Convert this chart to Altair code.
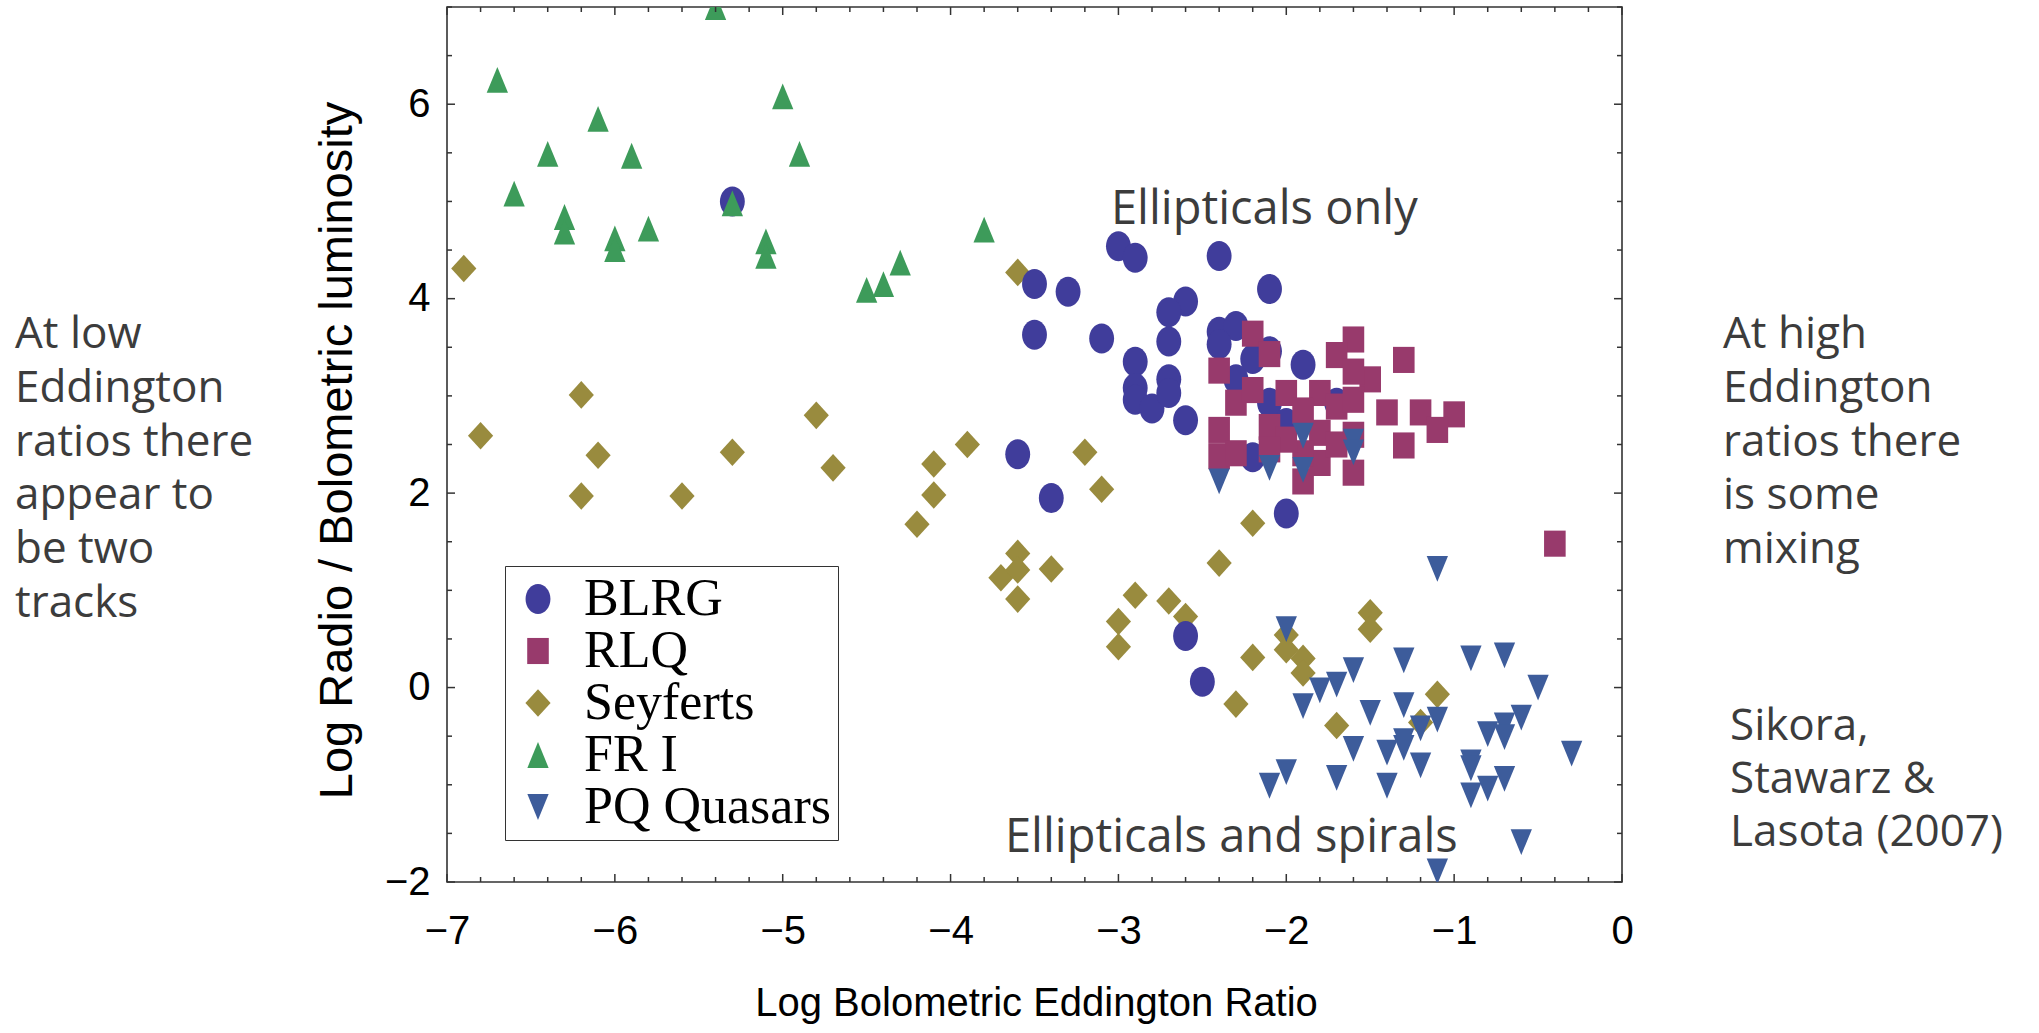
import altair as alt
import pandas as pd

# ---- data: log bolometric Eddington ratio (x) vs log radio / bolometric luminosity (y)
blrg_x = [-5.3, -3.0, -2.9, -2.4, -3.5, -3.3, -2.1, -2.6, -2.7, -3.5, -3.1, -2.7,
          -2.9, -2.9, -2.9, -2.8, -2.7, -2.7, -2.6, -3.6, -3.4, -2.0, -2.4, -2.3,
          -2.4, -2.2, -2.1, -2.3, -1.9, -2.1, -2.0, -2.2, -1.7, -2.6, -2.5]
blrg_y = [5.00, 4.54, 4.42, 4.44, 4.15, 4.07, 4.10, 3.97, 3.86, 3.63, 3.59, 3.56,
          3.35, 3.08, 2.96, 2.87, 3.17, 3.03, 2.75, 2.40, 1.95, 1.79, 3.66, 3.72,
          3.53, 3.38, 3.46, 3.17, 3.32, 2.93, 2.72, 2.37, 2.93, 0.53, 0.06]

rlq_x = [-2.2, -2.1, -2.4, -1.6, -1.7, -1.3, -1.5, -1.4, -1.2, -1.0, -1.3, -1.1,
         -1.6, -1.9, -1.8, -2.4, -2.4, -2.3, -2.3, -2.1, -2.0, -1.8, -1.7, -1.6,
         -1.6, -1.8, -1.9, -2.2, -2.0, -1.9, -2.1, -1.6, -1.7, -0.4]
rlq_y = [3.64, 3.43, 3.26, 3.58, 3.42, 3.37, 3.17, 2.83, 2.83, 2.81, 2.49, 2.65,
         2.21, 2.12, 2.31, 2.38, 2.65, 2.93, 2.41, 2.68, 3.03, 3.03, 2.89, 2.96,
         2.60, 2.62, 2.41, 3.06, 2.55, 2.85, 2.45, 3.25, 2.50, 1.48]

seyfert_x = [-6.9, -6.8, -6.2, -6.1, -6.2, -5.6, -5.3, -4.8, -4.7, -4.1, -4.1, -4.2,
             -3.6, -3.9, -3.2, -3.1, -3.6, -3.7, -3.6, -3.4, -3.6, -2.9, -3.0, -3.0,
             -2.7, -2.6, -2.4, -2.2, -2.2, -2.3, -2.0, -2.0, -1.9, -1.9, -1.7, -1.5,
             -1.5, -1.1, -1.2]
seyfert_y = [4.31, 2.59, 3.01, 2.39, 1.97, 1.97, 2.42, 2.80, 2.26, 2.30, 1.98, 1.68,
             4.27, 2.50, 2.42, 2.04, 1.38, 1.13, 1.21, 1.22, 0.91, 0.95, 0.68, 0.42,
             0.89, 0.73, 1.28, 1.69, 0.31, -0.17, 0.54, 0.39, 0.30, 0.15, -0.39, 0.77,
             0.60, -0.07, -0.36]

fr1_x = [-6.7, -6.1, -6.4, -5.9, -5.0, -4.9, -6.6, -6.3, -6.3, -6.0, -6.0, -5.8,
         -5.3, -5.1, -5.1, -4.5, -4.4, -4.3, -3.8, -5.4]
fr1_y = [6.25, 5.85, 5.49, 5.47, 6.08, 5.49, 5.08, 4.84, 4.69, 4.62, 4.51, 4.72,
         4.98, 4.59, 4.44, 4.09, 4.15, 4.37, 4.71, 7.00]

pq_x = [-1.1, -2.0, -1.3, -0.9, -0.7, -1.6, -1.7, -1.8, -1.9, -0.5, -1.5, -1.3,
        -1.1, -0.6, -0.7, -0.8, -0.7, -1.2, -1.3, -1.3, -1.6, -1.4, -1.2, -0.9,
        -0.9, -0.9, -0.8, -0.7, -0.3, -2.0, -2.1, -1.7, -1.4, -0.6, -1.1, -2.4,
        -2.1, -1.9, -1.9, -1.6, -1.6]
pq_y = [1.22, 0.60, 0.28, 0.30, 0.33, 0.18, 0.03, -0.03, -0.19, 0.00, -0.26, -0.18,
        -0.33, -0.31, -0.39, -0.48, -0.51, -0.42, -0.55, -0.62, -0.63, -0.67, -0.80, -0.77,
        -0.83, -1.11, -1.04, -0.94, -0.68, -0.87, -1.01, -0.93, -1.01, -1.59, -1.89, 2.12,
        2.26, 2.59, 2.24, 2.53, 2.42]

classes = ["BLRG", "RLQ", "Seyferts", "FR I", "PQ Quasars"]
colors = ["#403d9b", "#983a6c", "#998b3e", "#3d9b5a", "#3d5c9b"]

# marker outlines (unit paths, scaled by sqrt(size)/2)
ellipse = "M-0.83,0A0.83,1,0,1,1,0.83,0A0.83,1,0,1,1,-0.83,0Z"
rect = "M-0.72,-0.87L0.72,-0.87L0.72,0.87L-0.72,0.87Z"
diamond = "M0,-0.92L0.84,0L0,0.92L-0.84,0Z"
tri_up = "M0,-0.86L0.71,0.86L-0.71,0.86Z"
tri_down = "M0,0.86L0.71,-0.86L-0.71,-0.86Z"
shapes = [ellipse, rect, diamond, tri_up, tri_down]

x_major = [-7, -6, -5, -4, -3, -2, -1, 0]
x_minor = [round(-7 + 0.2 * i, 1) for i in range(36) if i % 5 != 0]
y_major = [-2, 0, 2, 4, 6]
y_minor = [v / 2 for v in range(-4, 15) if v % 4 != 0]

# drawing order: Seyferts underneath, quasars on top
groups = [
    ("Seyferts", seyfert_x, seyfert_y),
    ("BLRG", blrg_x, blrg_y),
    ("RLQ", rlq_x, rlq_y),
    ("FR I", fr1_x, fr1_y),
    ("PQ Quasars", pq_x, pq_y),
]
rows = []
for name, xs_, ys_ in groups:
    for a, b in zip(xs_, ys_):
        rows.append({"x": a, "y": b, "cls": name})
points_df = pd.DataFrame(rows)

W, H = 1175, 875
INK = "#333333"
TEXT = "#3c3c3c"
SANS = "Liberation Sans"

xs = alt.Scale(domain=[-7, 0], nice=False, zero=False)
ys = alt.Scale(domain=[-2, 7], nice=False, zero=False)

x_axis = alt.Axis(
    values=x_major, title="Log Bolometric Eddington Ratio",
    ticks=False, tickSize=0, domain=False, grid=False,
    labelFont=SANS, labelFontSize=40, labelColor="black", labelPadding=29,
    labelFlush=False, labelOverlap=False,
    titleFont=SANS, titleFontSize=40, titleFontWeight="normal", titleColor="black",
    titleX=589, titleY=133, titleBaseline="alphabetic", titleAlign="center")
y_axis = alt.Axis(
    values=y_major, title="Log Radio / Bolometric luminosity",
    ticks=False, tickSize=0, domain=False, grid=False,
    labelFont=SANS, labelFontSize=40, labelColor="black", labelPadding=17,
    labelFlush=False, labelOverlap=False,
    titleFont=SANS, titleFontSize=47, titleFontWeight="normal", titleColor="black",
    titleAngle=270, titleX=-86, titleY=443, titleBaseline="bottom", titleAlign="center")

legend = alt.Legend(
    orient="none", legendX=58, legendY=559, direction="vertical",
    labelFont="Liberation Serif", labelFontSize=52, labelColor="black",
    labelLimit=500, labelOffset=20,
    symbolSize=900, symbolStrokeWidth=0, symbolOpacity=1,
    strokeColor=INK, fillColor="white", padding=7, rowPadding=0,
)

points = alt.Chart(points_df).mark_point(
    filled=True, size=900, opacity=1, strokeWidth=0, clip=True
).encode(
    x=alt.X("x:Q", scale=xs, axis=x_axis),
    y=alt.Y("y:Q", scale=ys, axis=y_axis),
    color=alt.Color("cls:N", title=None,
                    scale=alt.Scale(domain=classes, range=colors), legend=legend),
    shape=alt.Shape("cls:N", title=None,
                    scale=alt.Scale(domain=classes, range=shapes), legend=legend),
)


# inward frame ticks on all four sides
def x_ticks(vals, y0, y1):
    return alt.Chart(pd.DataFrame({"x": vals})).mark_rule(
        color=INK, strokeWidth=1.5
    ).encode(x=alt.X("x:Q", scale=xs, axis=x_axis), y=alt.value(y0), y2=alt.value(y1))


def y_ticks(vals, x0, x1):
    return alt.Chart(pd.DataFrame({"y": vals})).mark_rule(
        color=INK, strokeWidth=1.5
    ).encode(y=alt.Y("y:Q", scale=ys, axis=y_axis), x=alt.value(x0), x2=alt.value(x1))


frame_ticks = [
    x_ticks(x_major, H, H - 8), x_ticks(x_minor, H, H - 5),
    x_ticks(x_major, 0, 8), x_ticks(x_minor, 0, 5),
    y_ticks(y_major, 0, 8), y_ticks(y_minor, 0, 5),
    y_ticks(y_major, W, W - 8), y_ticks(y_minor, W, W - 5),
]

one = pd.DataFrame({"k": [0]})


def note(lines, px, py, size, lh=53.8):
    return alt.Chart(one).mark_text(
        text=lines, align="left", baseline="alphabetic", font="Open Sans",
        fontSize=size, lineHeight=lh, color=TEXT
    ).encode(x=alt.value(px), y=alt.value(py))


notes = [
    note(["Ellipticals only"], 664, 217, 47),
    note(["Ellipticals and spirals"], 558, 845, 47),
    note(["At low", "Eddington", "ratios there", "appear to", "be two", "tracks"], -432, 341, 44),
    note(["At high", "Eddington", "ratios there", "is some", "mixing"], 1276, 341, 44),
    note(["Sikora,", "Stawarz &", "Lasota (2007)"], 1283, 733, 44, 53),
]

chart = alt.layer(points, *frame_ticks, *notes).properties(
    width=W, height=H,
    padding={"left": 447, "top": 7, "right": 417, "bottom": 151},
    autosize=alt.AutoSizeParams(type="none"),
    background="white",
).configure_view(
    stroke=INK, strokeWidth=1.6
)

chart.save("out.html", embed_options={"renderer": "svg", "actions": False})
